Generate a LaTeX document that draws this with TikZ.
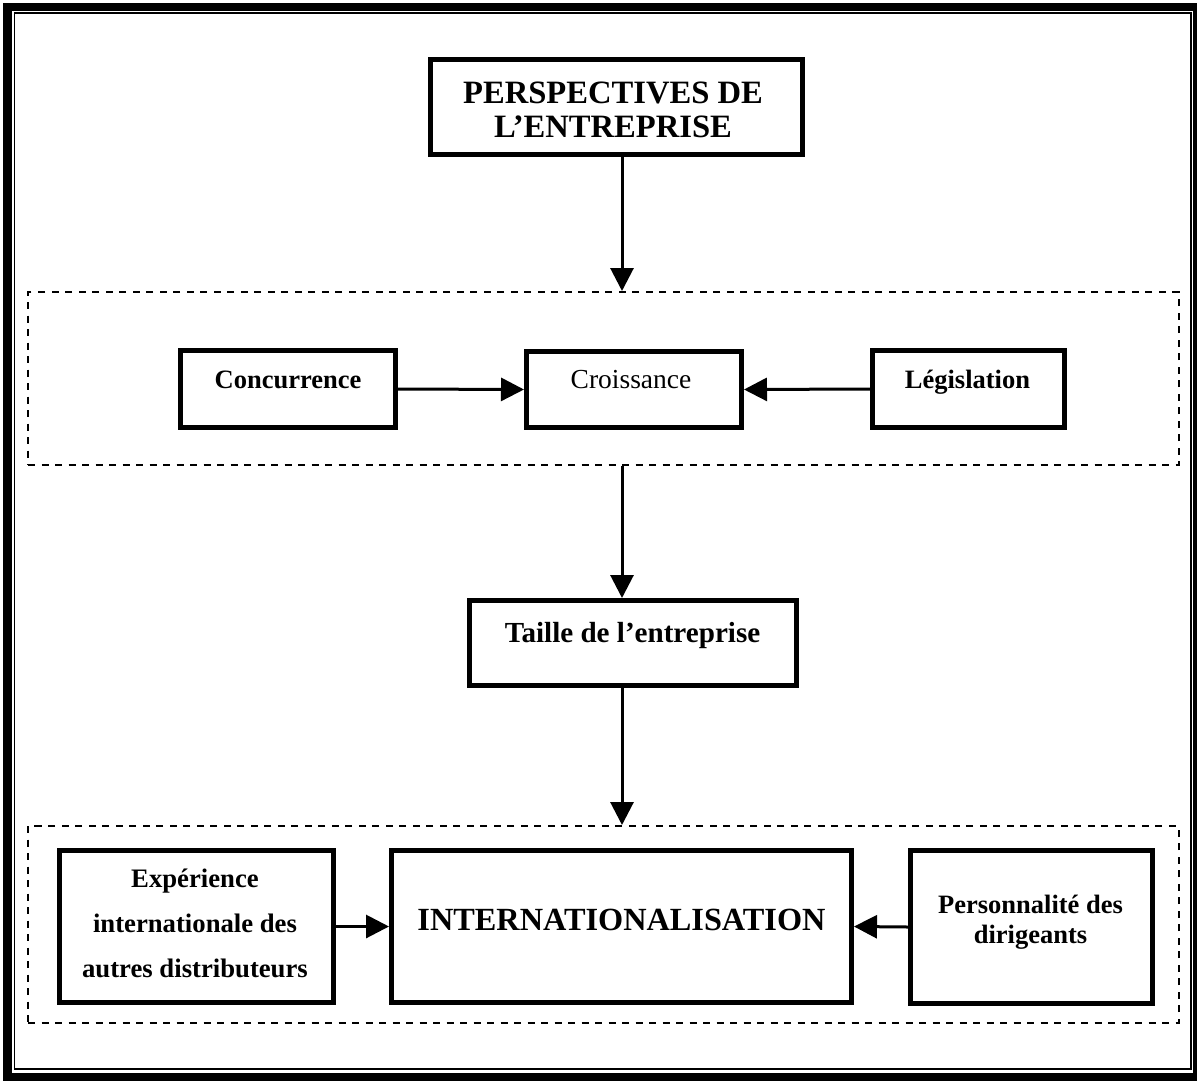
\documentclass[tikz,border=0pt]{standalone}
\usepackage{fontspec}
\setmainfont{Liberation Serif}
\usetikzlibrary{arrows.meta}
\begin{document}
\begin{tikzpicture}[x=1pt,y=-1pt,
  box/.style={draw, line width=5pt, rectangle, inner sep=0pt},
  grp/.style={draw, line width=2pt, dash pattern=on 7pt off 6.5pt, rectangle, inner sep=0pt},
  lbl/.style={inner sep=0pt, font=\bfseries\fontsize{26.5}{30}\selectfont, align=center},
  conn/.style={line width=3pt, -{Triangle[length=23pt,width=23pt]}},
]
\useasboundingbox (0,0) rectangle (1197,1080);
% page frame: thick outer line, thin inner line
\draw[line width=8.4pt] (7.6,6.9) rectangle (1197,1077);
\draw[line width=1.5pt] (14.3,13.2) rectangle (1191,1069);

% vertical axis of the main flow
\coordinate (axis) at (622,0);

% top box
\node[box, minimum width=372pt, minimum height=95pt] (persp) at (616.5,107) {};
\node[lbl, font=\bfseries\fontsize{32.6}{34}\selectfont] (persp-t) at (613,110) {PERSPECTIVES DE\\L’ENTREPRISE};

% first group
\node[grp, minimum width=1150.5pt, minimum height=173pt] (grp1) at (603.25,378.5) {};
\node[box, minimum width=215pt, minimum height=77pt] (conc) at (288,389) {};
\node[lbl, anchor=base] (conc-t) at (288,388) {Concurrence};
\node[box, minimum width=215pt, minimum height=76pt] (crois) at (634,389.5) {};
\node[lbl, anchor=base, font=\fontsize{27.5}{30}\selectfont] (crois-t) at (631,388) {Croissance};
\node[box, minimum width=192pt, minimum height=77pt] (legis) at (968.5,389) {};
\node[lbl, anchor=base] (legis-t) at (967.5,388) {Législation};

% size box
\node[box, minimum width=327pt, minimum height=85pt] (taille) at (633,643) {};
\node[lbl, anchor=base, font=\bfseries\fontsize{29.1}{32}\selectfont] (taille-t) at (632.5,642) {Taille de l’entreprise};

% second group
\node[grp, minimum width=1150.5pt, minimum height=196.5pt] (grp2) at (603.25,924.25) {};
\node[box, minimum width=274pt, minimum height=152pt] (exp) at (196.5,926.5) {};
\node[lbl, font=\bfseries\fontsize{26.7}{45}\selectfont] (exp-t) at (195,923) {Expérience\\internationale des\\autres distributeurs};
\node[box, minimum width=460pt, minimum height=152pt] (intl) at (621.5,926.5) {};
\node[lbl, anchor=base, font=\bfseries\fontsize{32.3}{36}\selectfont] (intl-t) at (621.5,930) {INTERNATIONALISATION};
\node[box, minimum width=242pt, minimum height=153pt] (pers) at (1031.5,927) {};
\node[lbl, font=\bfseries\fontsize{26.5}{30}\selectfont] (pers-t) at (1030.5,922) {Personnalité des\\dirigeants};

% connectors
\draw[conn] (persp.south -| axis) -- (grp1.north -| axis);
\draw[conn] (conc.east) -- (crois.west);
\draw[conn] (legis.west) -- (crois.east);
\draw[conn] (grp1.south -| axis) -- (taille.north -| axis);
\draw[conn] (taille.south -| axis) -- (grp2.north -| axis);
\draw[conn] (exp.east) -- (intl.west);
\draw[conn] (pers.west) -- (intl.east);
\end{tikzpicture}
\end{document}
